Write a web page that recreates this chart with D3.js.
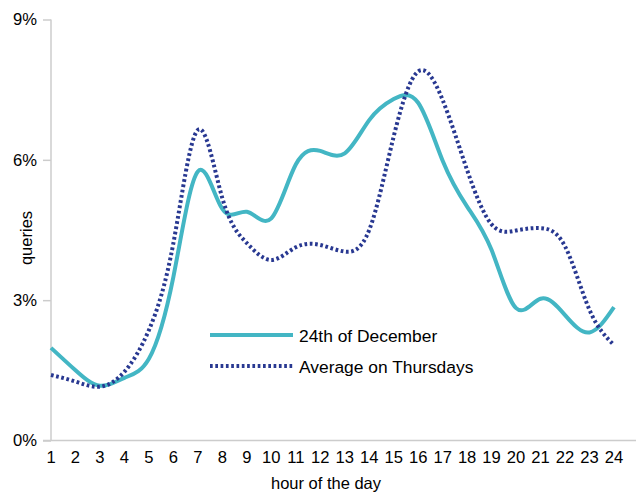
<!DOCTYPE html>
<html>
<head>
<meta charset="utf-8">
<script src="https://cdn.jsdelivr.net/npm/d3@7"></script>
<style>
  body { margin: 0; background: #fff; }
  text { font-family: "Liberation Sans", Arial, sans-serif; fill: #000; }
</style>
</head>
<body>
<svg id="chart" width="637" height="492"></svg>
<script>
const hours = d3.range(1, 25)
const yTicks = [0, 3, 6, 9]

const dec24 = [1.98, 1.5, 1.17, 1.34, 1.75, 3.5, 5.75, 4.95, 4.89, 4.75, 5.9, 6.19,
    6.14, 6.85, 7.3, 7.22, 5.98, 5.0, 4.07, 2.83, 3.03, 2.68, 2.31, 2.85]
const thursdays = [1.4, 1.26, 1.15, 1.47, 2.36, 4.22, 6.64, 5.18, 4.22, 3.86, 4.13, 4.18,
    4.04, 4.5, 6.5, 7.89, 7.28, 5.78, 4.62, 4.49, 4.54, 4.15, 2.79, 2.04]

const series = [
    { name: '24th of December', values: dec24, color: '#43b6c4', dash: null },
    { name: 'Average on Thursdays', values: thursdays, color: '#283891', dash: '2.7,2.6' }
]

const svg = d3.select('#chart')
const x = d3.scaleLinear().domain([1, 24]).range([51, 614])
const y = d3.scaleLinear().domain([0, 9]).range([440.5, 19.5])

// axes
const gy = svg.append('g').attr('transform', 'translate(51,0)')
    .call(d3.axisLeft(y).tickValues(yTicks).tickSize(8).tickPadding(6)
        .tickFormat(d => d + '%'))
gy.select('.domain').remove()
gy.selectAll('.tick line').attr('stroke', '#cccccc').attr('stroke-width', 1.5)
gy.selectAll('.tick text').style('font-size', '16.6px')
svg.append('line').attr('x1', 51).attr('x2', 51).attr('y1', y(9)).attr('y2', y(0))
    .attr('stroke', '#cccccc').attr('stroke-width', 1.5)

svg.append('line').attr('x1', 43).attr('x2', 636).attr('y1', y(0)).attr('y2', y(0))
    .attr('stroke', '#cccccc').attr('stroke-width', 1.5)

svg.append('g').selectAll('text').data(hours).join('text')
    .attr('x', d => x(d)).attr('y', 463)
    .attr('text-anchor', 'middle')
    .style('font-size', '16.6px')
    .text(d => d)

svg.append('text').attr('x', 326).attr('y', 489).attr('text-anchor', 'middle')
    .style('font-size', '16.5px').text('hour of the day')
svg.append('text').attr('transform', 'translate(32,238) rotate(-90)')
    .attr('text-anchor', 'middle').style('font-size', '16.5px').text('queries')

// lines
const line = d3.line().x((d, i) => x(hours[i])).y(d => y(d)).curve(d3.curveNatural)
svg.append('g').selectAll('path').data(series).join('path')
    .attr('d', d => line(d.values))
    .attr('fill', 'none')
    .attr('stroke', d => d.color)
    .attr('stroke-width', 4)
    .attr('stroke-dasharray', d => d.dash)

// legend
const lg = svg.append('g').selectAll('g').data(series).join('g')
    .attr('transform', (d, i) => 'translate(210,' + (335 + i * 31) + ')')
lg.append('line').attr('x1', 0).attr('x2', 83)
    .attr('stroke', d => d.color).attr('stroke-width', 4)
    .attr('stroke-dasharray', d => d.dash)
lg.append('text').attr('x', 89).attr('y', 6.5).style('font-size', '17.4px').text(d => d.name)
</script>
</body>
</html>
